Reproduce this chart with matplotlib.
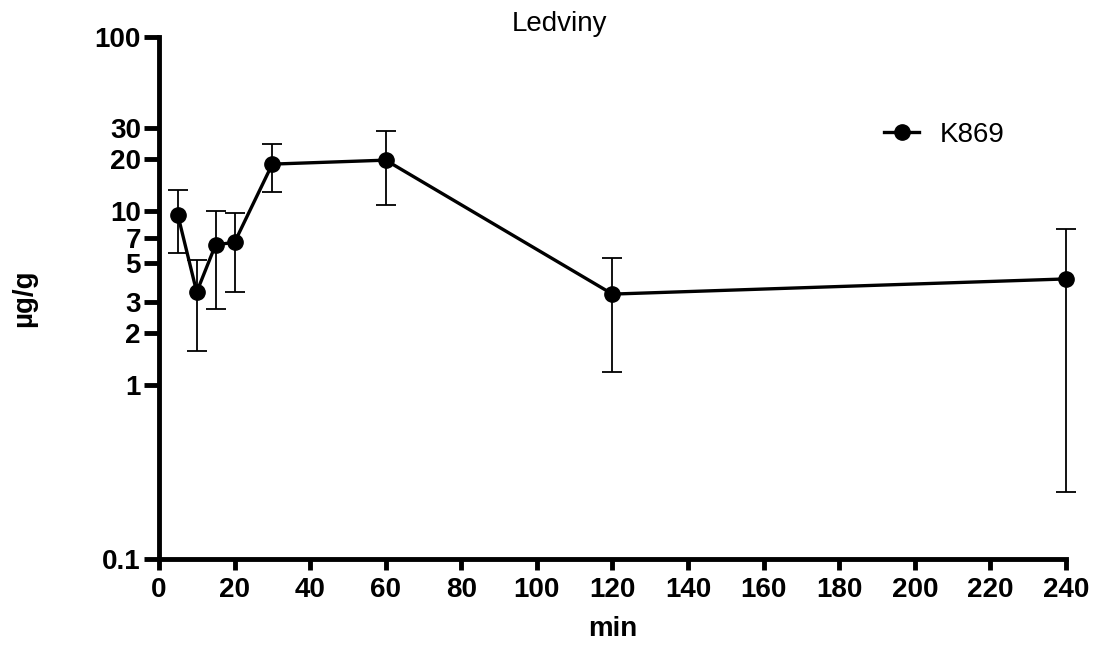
import matplotlib.pyplot as plt
import numpy as np

plt.rcParams['font.family'] = ['Liberation Sans', 'DejaVu Sans']

# data
minutes = [5, 10, 15, 20, 30, 60, 120, 240]
k869 = [9.5, 3.42, 6.4, 6.6, 18.6, 19.6, 3.33, 4.07]
err_hi = [13.2, 5.2, 10.0, 9.75, 24.3, 28.8, 5.4, 7.9]
err_lo = [5.7, 1.57, 2.73, 3.42, 12.9, 10.8, 1.19, 0.243]

y_ticks = [0.1, 1, 2, 3, 5, 7, 10, 20, 30, 100]
y_labels = ['0.1', '1', '2', '3', '5', '7', '10', '20', '30', '100']
x_ticks = np.arange(0, 241, 20)

k869 = np.array(k869)
yerr = [k869 - np.array(err_lo), np.array(err_hi) - k869]

fig = plt.figure(figsize=(10.96, 6.46), dpi=100)
ax = fig.add_axes([0.145, 0.1347, 0.8276, 0.808])

eb = ax.errorbar(minutes, k869, yerr=yerr, fmt='none', ecolor='black',
                 elinewidth=1.3, capsize=7, capthick=1.3, zorder=2)
for art in eb.lines[1] + eb.lines[2]:
    art.set_clip_on(False)
ax.plot(minutes, k869, 'o-', color='black', lw=2.4, ms=11,
        label='K869', zorder=3, clip_on=False)

ax.set_yscale('log')
ax.set_ylim(0.1, 100)
ax.set_xlim(0, 240)
ax.set_yticks(y_ticks)
ax.set_yticklabels(y_labels)
ax.yaxis.set_minor_locator(plt.NullLocator())
ax.set_xticks(x_ticks)

for s in ['top', 'right']:
    ax.spines[s].set_visible(False)
for s in ['left', 'bottom']:
    ax.spines[s].set_linewidth(3.5)

ax.tick_params(axis='y', length=11, width=3.5, labelsize=20, pad=2)
ax.tick_params(axis='x', length=8, width=3.5, labelsize=20, pad=5)
for lab in ax.get_xticklabels() + ax.get_yticklabels():
    lab.set_fontweight('bold')

ax.set_title('Ledviny', fontsize=20, pad=4, x=0.442)
ax.set_xlabel('min', fontsize=20, fontweight='bold', labelpad=9)
ax.set_ylabel('µg/g', fontsize=20, fontweight='bold', labelpad=41)

ax.legend(loc='center left', bbox_to_anchor=(0.772, 0.812), frameon=False,
          fontsize=20, handlelength=1.25, handletextpad=0.75)

plt.savefig('out.png', dpi=100)
